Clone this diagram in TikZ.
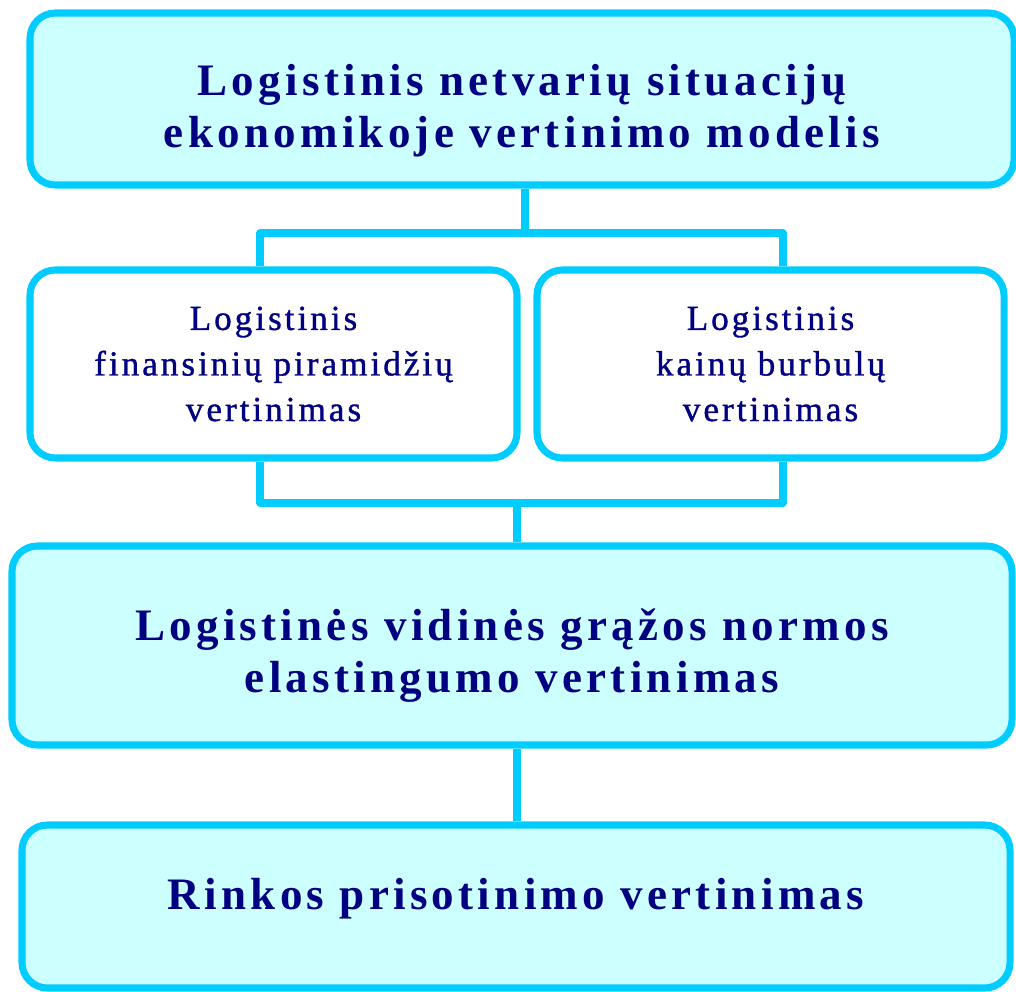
\documentclass[tikz,border=0pt]{standalone}
\usepackage{fontspec}
\setmainfont{Liberation Serif}
\newfontfamily\headfont[LetterSpace=9.5]{Liberation Serif}
\newfontfamily\subfont[LetterSpace=8.5,FakeBold=1]{Liberation Serif}
\usetikzlibrary{positioning}
\definecolor{boxline}{HTML}{00CCFF}
\definecolor{boxfill}{HTML}{CCFFFF}
\definecolor{boxtext}{HTML}{000080}
\newcommand{\pxu}{0.025cm}
\newcommand{\lift}[1]{\rule{0pt}{#1}}

\begin{document}
\begin{tikzpicture}[x=0.025cm,y=-0.025cm,
    box/.style={draw=boxline,line width=5pt,rounded corners=18pt,inner sep=0pt,
        align=center,text=boxtext},
    bigbox/.style={box,fill=boxfill,font=\headfont\bfseries\fontsize{32}{37}\selectfont},
    smallbox/.style={box,fill=white,font=\subfont\fontsize{25}{32.4}\selectfont},
    link/.style={draw=boxline,line width=5pt,line join=round}]
    \useasboundingbox (0,0) rectangle (1016,991);
    \node[bigbox,minimum width=984*\pxu,minimum height=172*\pxu] (model) at (522,99)
        {\lift{39pt}Logistinis netvarių situacijų\\ekonomikoje vertinimo modelis};
    \node[smallbox,minimum width=487*\pxu,minimum height=188*\pxu] (fin) at (273.5,364)
        {Logistinis\\finansinių piramidžių\\vertinimas};
    \node[smallbox,minimum width=467*\pxu,minimum height=188*\pxu] (kain) at (770.5,364)
        {Logistinis\\kainų burbulų\\vertinimas};
    \node[bigbox,minimum width=1000*\pxu,minimum height=199*\pxu] (elast) at (512,645.5)
        {\lift{37pt}Logistinės vidinės grąžos normos\\elastingumo vertinimas};
    \node[bigbox,minimum width=988*\pxu,minimum height=163*\pxu,text depth=1.75em] (rinkos) at (516,906.5)
        {Rinkos prisotinimo vertinimas};
    %
    \coordinate (tj) at (525,233);
    \coordinate (tl) at (260,233);
    \coordinate (tr) at (783,233);
    \coordinate (bj) at (517,503);
    \coordinate (bl) at (260,503);
    \coordinate (br) at (783,503);
    \draw[link] (tj |- model.south) -- (tj);
    \draw[link] (tl |- fin.north) -- (tl) -- (tr) -- (tr |- kain.north);
    \draw[link] (bl |- fin.south) -- (bl) -- (br) -- (br |- kain.south);
    \draw[link] (bj) -- (bj |- elast.north);
    \draw[link] (bj |- elast.south) -- (bj |- rinkos.north);
\end{tikzpicture}
\end{document}
